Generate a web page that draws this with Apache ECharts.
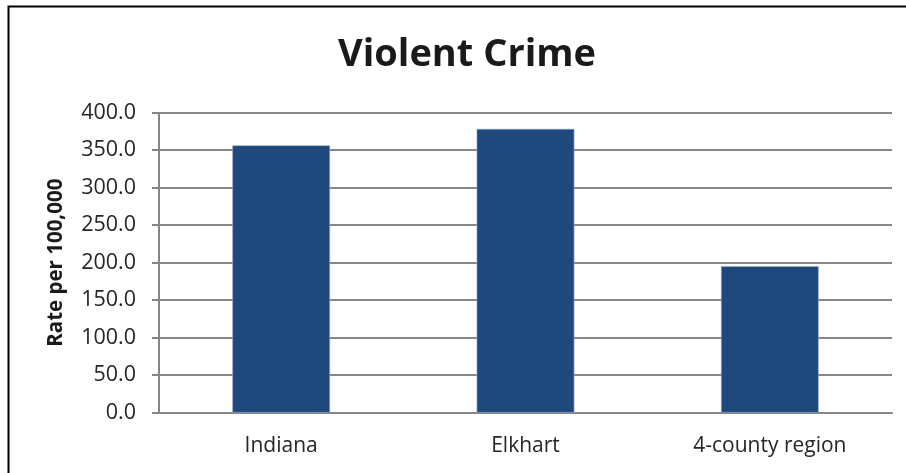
<!DOCTYPE html>
<html>
<head>
<meta charset="utf-8">
<style>
html,body{margin:0;padding:0;background:#fff;}
#chart{width:906px;height:473px;}
</style>
<script src="https://cdn.jsdelivr.net/npm/echarts@6/dist/echarts.min.js"></script>
</head>
<body>
<div id="chart"></div>
<script>
const titleText = "Violent Crime";
const yAxisName = "Rate per 100,000";
const categories = ["Indiana", "Elkhart", "4-county region"];
const rates = [356.5, 378.5, 195.5];
const yMin = 0, yMax = 400, yStep = 50;

const chart = echarts.init(document.getElementById('chart'), null, {renderer: 'canvas'});
const FONT = 'Open Sans';
chart.setOption({
  animation: false,
  backgroundColor: '#fff',
  title: {
    text: titleText,
    left: 462,
    textAlign: 'center',
    top: 31,
    textStyle: {fontFamily: FONT, fontWeight: 'bold', fontSize: 38, color: '#1a1a1a'}
  },
  graphic: [{
    type: 'rect',
    shape: {x: 8.5, y: 6.5, width: 1000, height: 1000},
    style: {fill: 'none', stroke: '#000', lineWidth: 2},
    silent: true
  }],
  grid: {left: 159, right: 14, top: 112.7, bottom: 60.3, containLabel: false},
  xAxis: {
    type: 'category',
    data: categories,
    axisLine: {show: true, lineStyle: {color: '#868686', width: 2}},
    axisTick: {show: false},
    axisLabel: {fontFamily: FONT, fontSize: 21, color: '#262626', margin: 23}
  },
  yAxis: {
    type: 'value',
    min: yMin, max: yMax, interval: yStep,
    name: yAxisName,
    nameLocation: 'middle',
    nameRotate: 90,
    nameGap: 92,
    nameTextStyle: {fontFamily: FONT, fontWeight: 'bold', fontSize: 20.5, color: '#1a1a1a'},
    axisLine: {show: true, lineStyle: {color: '#868686', width: 2}},
    axisTick: {show: true, length: 7, lineStyle: {color: '#868686', width: 2}},
    splitLine: {show: true, lineStyle: {color: '#868686', width: 2}},
    axisLabel: {
      fontFamily: FONT, fontSize: 21.5, color: '#262626', margin: 23,
      formatter: v => v.toFixed(1)
    }
  },
  series: [{
    type: 'bar',
    data: rates,
    barWidth: '40%',
    itemStyle: {color: '#1F497D', borderColor: '#9bb1cc', borderWidth: 0.6}
  }]
});
</script>
</body>
</html>
